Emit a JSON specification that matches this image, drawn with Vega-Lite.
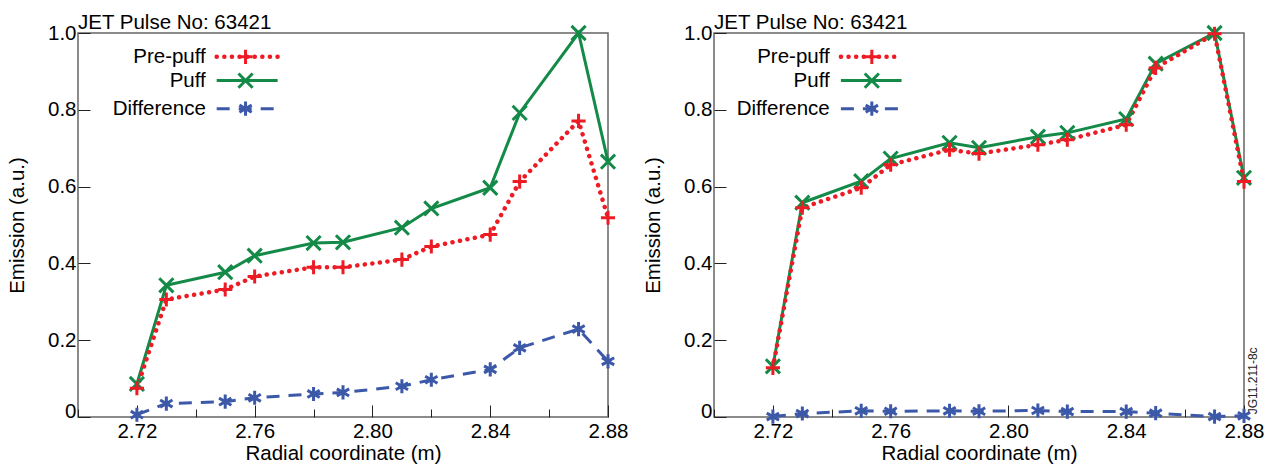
{
  "$schema": "https://vega.github.io/schema/vega-lite/v6.json",
  "padding": {"left": 6, "top": 12, "right": 4, "bottom": 4},
  "spacing": 13,
  "config": {
    "font": "Liberation Sans",
    "view": {"stroke": "#666", "strokeWidth": 1.5},
    "axis": {"labelFontSize": 20.5, "titleFontSize": 20.5, "titleFontWeight": "normal", "labelColor": "#000", "titleColor": "#000", "labelFont": "Liberation Sans", "titleFont": "Liberation Sans"},
    "title": {"font": "Liberation Sans", "fontSize": 20.5, "fontWeight": "normal", "color": "#000", "anchor": "start", "frame": "group", "offset": -14}
  },
  "datasets": {
    "legend": [{"series": "Pre-puff"}, {"series": "Puff"}, {"series": "Difference"}, {"series": "Label"}],
    "left": [
      {"x": 2.72, "series": "Puff", "v": 0.086}, {"x": 2.73, "series": "Puff", "v": 0.343}, {"x": 2.75, "series": "Puff", "v": 0.377}, {"x": 2.76, "series": "Puff", "v": 0.42}, {"x": 2.78, "series": "Puff", "v": 0.453}, {"x": 2.79, "series": "Puff", "v": 0.455}, {"x": 2.81, "series": "Puff", "v": 0.493}, {"x": 2.82, "series": "Puff", "v": 0.543}, {"x": 2.84, "series": "Puff", "v": 0.597}, {"x": 2.85, "series": "Puff", "v": 0.792}, {"x": 2.87, "series": "Puff", "v": 1.0}, {"x": 2.88, "series": "Puff", "v": 0.665},
      {"x": 2.72, "series": "Pre-puff", "v": 0.075}, {"x": 2.73, "series": "Pre-puff", "v": 0.306}, {"x": 2.75, "series": "Pre-puff", "v": 0.332}, {"x": 2.76, "series": "Pre-puff", "v": 0.366}, {"x": 2.78, "series": "Pre-puff", "v": 0.39}, {"x": 2.79, "series": "Pre-puff", "v": 0.39}, {"x": 2.81, "series": "Pre-puff", "v": 0.41}, {"x": 2.82, "series": "Pre-puff", "v": 0.444}, {"x": 2.84, "series": "Pre-puff", "v": 0.475}, {"x": 2.85, "series": "Pre-puff", "v": 0.613}, {"x": 2.87, "series": "Pre-puff", "v": 0.771}, {"x": 2.88, "series": "Pre-puff", "v": 0.519},
      {"x": 2.72, "series": "Difference", "v": 0.006}, {"x": 2.73, "series": "Difference", "v": 0.035}, {"x": 2.75, "series": "Difference", "v": 0.04}, {"x": 2.76, "series": "Difference", "v": 0.05}, {"x": 2.78, "series": "Difference", "v": 0.06}, {"x": 2.79, "series": "Difference", "v": 0.064}, {"x": 2.81, "series": "Difference", "v": 0.08}, {"x": 2.82, "series": "Difference", "v": 0.097}, {"x": 2.84, "series": "Difference", "v": 0.124}, {"x": 2.85, "series": "Difference", "v": 0.18}, {"x": 2.87, "series": "Difference", "v": 0.229}, {"x": 2.88, "series": "Difference", "v": 0.145}
    ],
    "right": [
      {"x": 2.72, "series": "Puff", "v": 0.132}, {"x": 2.73, "series": "Puff", "v": 0.558}, {"x": 2.75, "series": "Puff", "v": 0.614}, {"x": 2.76, "series": "Puff", "v": 0.673}, {"x": 2.78, "series": "Puff", "v": 0.714}, {"x": 2.79, "series": "Puff", "v": 0.701}, {"x": 2.81, "series": "Puff", "v": 0.73}, {"x": 2.82, "series": "Puff", "v": 0.74}, {"x": 2.84, "series": "Puff", "v": 0.776}, {"x": 2.85, "series": "Puff", "v": 0.92}, {"x": 2.87, "series": "Puff", "v": 1.0}, {"x": 2.88, "series": "Puff", "v": 0.623},
      {"x": 2.72, "series": "Pre-puff", "v": 0.128}, {"x": 2.73, "series": "Pre-puff", "v": 0.545}, {"x": 2.75, "series": "Pre-puff", "v": 0.597}, {"x": 2.76, "series": "Pre-puff", "v": 0.657}, {"x": 2.78, "series": "Pre-puff", "v": 0.696}, {"x": 2.79, "series": "Pre-puff", "v": 0.686}, {"x": 2.81, "series": "Pre-puff", "v": 0.709}, {"x": 2.82, "series": "Pre-puff", "v": 0.722}, {"x": 2.84, "series": "Pre-puff", "v": 0.761}, {"x": 2.85, "series": "Pre-puff", "v": 0.909}, {"x": 2.87, "series": "Pre-puff", "v": 0.998}, {"x": 2.88, "series": "Pre-puff", "v": 0.613},
      {"x": 2.72, "series": "Difference", "v": 0.001}, {"x": 2.73, "series": "Difference", "v": 0.009}, {"x": 2.75, "series": "Difference", "v": 0.016}, {"x": 2.76, "series": "Difference", "v": 0.015}, {"x": 2.78, "series": "Difference", "v": 0.016}, {"x": 2.79, "series": "Difference", "v": 0.015}, {"x": 2.81, "series": "Difference", "v": 0.017}, {"x": 2.82, "series": "Difference", "v": 0.014}, {"x": 2.84, "series": "Difference", "v": 0.014}, {"x": 2.85, "series": "Difference", "v": 0.01}, {"x": 2.87, "series": "Difference", "v": 0.001}, {"x": 2.88, "series": "Difference", "v": 0.003}
    ]
  },
  "hconcat": [
    {
      "width": 530, "height": 384,
      "title": {"text": "JET Pulse No: 63421"},
      "layer": [
        {
          "data": {"name": "left"},
          "encoding": {
            "x": {"field": "x", "type": "quantitative", "scale": {"domain": [2.7, 2.88], "nice": false, "zero": false},
              "axis": {"title": "Radial coordinate (m)", "values": [2.7, 2.72, 2.74, 2.76, 2.78, 2.8, 2.82, 2.84, 2.86, 2.88], "labelExpr": "round(datum.value*100) % 4 == 2 ? '' : format(datum.value, '.2f')", "tickSize": {"condition": {"test": "round(datum.value*100) % 4 == 2", "value": -8}, "value": -12}, "tickColor": "#222", "domain": false, "grid": false, "labelFlush": false, "labelPadding": 16, "titlePadding": 2}},
            "y": {"field": "v", "type": "quantitative", "scale": {"domain": [0, 1], "nice": false, "zero": false},
              "axis": {"title": "Emission (a.u.)", "values": [0, 0.1, 0.2, 0.3, 0.4, 0.5, 0.6, 0.7, 0.8, 0.9, 1.0], "labelExpr": "round(datum.value*10) % 2 == 1 ? '' : (datum.value == 0 ? '0' : format(datum.value, '.1f'))", "tickSize": {"condition": {"test": "round(datum.value*10) % 2 == 1", "value": -8}, "value": -12}, "labelBaseline": {"condition": {"test": "datum.value == 0", "value": "alphabetic"}, "value": "middle"}, "tickColor": "#222", "domain": false, "grid": false, "labelFlush": false, "labelPadding": 14, "titlePadding": 20}}
          },
          "layer": [
            {"transform": [{"filter": "datum.series == 'Puff'"}], "mark": {"type": "line", "color": "#138a47", "strokeWidth": 3}},
            {"transform": [{"filter": "datum.series == 'Pre-puff'"}], "mark": {"type": "line", "color": "#ed1c24", "strokeWidth": 4.5, "strokeDash": [0.1, 7.5], "strokeCap": "round"}},
            {"transform": [{"filter": "datum.series == 'Difference'"}], "mark": {"type": "line", "color": "#3c58a8", "strokeWidth": 3, "strokeDash": [13, 9]}},
            {"mark": {"type": "point", "filled": false, "strokeWidth": 3, "size": 200, "opacity": 1},
              "encoding": {
                "color": {"field": "series", "type": "nominal", "scale": {"domain": ["Pre-puff", "Puff", "Difference"], "range": ["#ed1c24", "#138a47", "#3c58a8"]}, "legend": null},
                "shape": {"field": "series", "type": "nominal", "scale": {"domain": ["Pre-puff", "Puff", "Difference"], "range": ["M-1,0L1,0M0,-1L0,1", "M-1,-1L1,1M-1,1L1,-1", "M0,-1L0,1M-0.87,-0.5L0.87,0.5M-0.87,0.5L0.87,-0.5"]}, "legend": null}
              }}
          ]
        },
        {"data": {"name": "legend"}, "transform": [{"filter": "datum.series == 'Pre-puff'"}], "mark": {"type": "text", "align": "right", "baseline": "middle", "fontSize": 20.5, "font": "Liberation Sans", "color": "#000"}, "encoding": {"x": {"datum": 2.7434, "type": "quantitative"}, "y": {"datum": 0.938, "type": "quantitative"}, "text": {"field": "series"}}},
        {"data": {"name": "legend"}, "transform": [{"filter": "datum.series == 'Puff'"}], "mark": {"type": "text", "align": "right", "baseline": "middle", "fontSize": 20.5, "font": "Liberation Sans", "color": "#000"}, "encoding": {"x": {"datum": 2.7434, "type": "quantitative"}, "y": {"datum": 0.876, "type": "quantitative"}, "text": {"field": "series"}}},
        {"data": {"name": "legend"}, "transform": [{"filter": "datum.series == 'Difference'"}], "mark": {"type": "text", "align": "right", "baseline": "middle", "fontSize": 20.5, "font": "Liberation Sans", "color": "#000"}, "encoding": {"x": {"datum": 2.7434, "type": "quantitative"}, "y": {"datum": 0.803, "type": "quantitative"}, "text": {"field": "series"}}},
        {"data": {"name": "legend"}, "transform": [{"filter": "datum.series == 'Pre-puff'"}], "mark": {"type": "rule", "color": "#ed1c24", "strokeWidth": 4.5, "strokeDash": [0.1, 7.5], "strokeCap": "round"}, "encoding": {"x": {"datum": 2.7471, "type": "quantitative"}, "x2": {"datum": 2.7678}, "y": {"datum": 0.938, "type": "quantitative"}}},
        {"data": {"name": "legend"}, "transform": [{"filter": "datum.series == 'Puff'"}], "mark": {"type": "rule", "color": "#138a47", "strokeWidth": 3}, "encoding": {"x": {"datum": 2.7471, "type": "quantitative"}, "x2": {"datum": 2.7678}, "y": {"datum": 0.876, "type": "quantitative"}}},
        {"data": {"name": "legend"}, "transform": [{"filter": "datum.series == 'Difference'"}], "mark": {"type": "rule", "color": "#3c58a8", "strokeWidth": 3, "strokeDash": [13, 9]}, "encoding": {"x": {"datum": 2.7471, "type": "quantitative"}, "x2": {"datum": 2.7678}, "y": {"datum": 0.803, "type": "quantitative"}}},
        {"data": {"name": "legend"}, "transform": [{"filter": "datum.series == 'Pre-puff'"}], "mark": {"type": "point", "filled": false, "strokeWidth": 3, "size": 200, "opacity": 1, "color": "#ed1c24", "shape": "M-1,0L1,0M0,-1L0,1"}, "encoding": {"x": {"datum": 2.7569, "type": "quantitative"}, "y": {"datum": 0.938, "type": "quantitative"}}},
        {"data": {"name": "legend"}, "transform": [{"filter": "datum.series == 'Puff'"}], "mark": {"type": "point", "filled": false, "strokeWidth": 3, "size": 200, "opacity": 1, "color": "#138a47", "shape": "M-1,-1L1,1M-1,1L1,-1"}, "encoding": {"x": {"datum": 2.7569, "type": "quantitative"}, "y": {"datum": 0.876, "type": "quantitative"}}},
        {"data": {"name": "legend"}, "transform": [{"filter": "datum.series == 'Difference'"}], "mark": {"type": "point", "filled": false, "strokeWidth": 3, "size": 200, "opacity": 1, "color": "#3c58a8", "shape": "M0,-1L0,1M-0.87,-0.5L0.87,0.5M-0.87,0.5L0.87,-0.5"}, "encoding": {"x": {"datum": 2.7569, "type": "quantitative"}, "y": {"datum": 0.803, "type": "quantitative"}}}
      ]
    },
    {
      "width": 530, "height": 384,
      "title": {"text": "JET Pulse No: 63421"},
      "layer": [
        {
          "data": {"name": "right"},
          "encoding": {
            "x": {"field": "x", "type": "quantitative", "scale": {"domain": [2.7, 2.88], "nice": false, "zero": false},
              "axis": {"title": "Radial coordinate (m)", "values": [2.7, 2.72, 2.74, 2.76, 2.78, 2.8, 2.82, 2.84, 2.86, 2.88], "labelExpr": "round(datum.value*100) % 4 == 2 ? '' : format(datum.value, '.2f')", "tickSize": {"condition": {"test": "round(datum.value*100) % 4 == 2", "value": -8}, "value": -12}, "tickColor": "#222", "domain": false, "grid": false, "labelFlush": false, "labelPadding": 16, "titlePadding": 2}},
            "y": {"field": "v", "type": "quantitative", "scale": {"domain": [0, 1], "nice": false, "zero": false},
              "axis": {"title": "Emission (a.u.)", "values": [0, 0.1, 0.2, 0.3, 0.4, 0.5, 0.6, 0.7, 0.8, 0.9, 1.0], "labelExpr": "round(datum.value*10) % 2 == 1 ? '' : (datum.value == 0 ? '0' : format(datum.value, '.1f'))", "tickSize": {"condition": {"test": "round(datum.value*10) % 2 == 1", "value": -8}, "value": -12}, "labelBaseline": {"condition": {"test": "datum.value == 0", "value": "alphabetic"}, "value": "middle"}, "tickColor": "#222", "domain": false, "grid": false, "labelFlush": false, "labelPadding": 14, "titlePadding": 20}}
          },
          "layer": [
            {"transform": [{"filter": "datum.series == 'Puff'"}], "mark": {"type": "line", "color": "#138a47", "strokeWidth": 3}},
            {"transform": [{"filter": "datum.series == 'Pre-puff'"}], "mark": {"type": "line", "color": "#ed1c24", "strokeWidth": 4.5, "strokeDash": [0.1, 7.5], "strokeCap": "round"}},
            {"transform": [{"filter": "datum.series == 'Difference'"}], "mark": {"type": "line", "color": "#3c58a8", "strokeWidth": 3, "strokeDash": [13, 9]}},
            {"mark": {"type": "point", "filled": false, "strokeWidth": 3, "size": 200, "opacity": 1},
              "encoding": {
                "color": {"field": "series", "type": "nominal", "scale": {"domain": ["Pre-puff", "Puff", "Difference"], "range": ["#ed1c24", "#138a47", "#3c58a8"]}, "legend": null},
                "shape": {"field": "series", "type": "nominal", "scale": {"domain": ["Pre-puff", "Puff", "Difference"], "range": ["M-1,0L1,0M0,-1L0,1", "M-1,-1L1,1M-1,1L1,-1", "M0,-1L0,1M-0.87,-0.5L0.87,0.5M-0.87,0.5L0.87,-0.5"]}, "legend": null}
              }}
          ]
        },
        {"data": {"name": "legend"}, "transform": [{"filter": "datum.series == 'Pre-puff'"}], "mark": {"type": "text", "align": "right", "baseline": "middle", "fontSize": 20.5, "font": "Liberation Sans", "color": "#000"}, "encoding": {"x": {"datum": 2.7393, "type": "quantitative"}, "y": {"datum": 0.938, "type": "quantitative"}, "text": {"field": "series"}}},
        {"data": {"name": "legend"}, "transform": [{"filter": "datum.series == 'Puff'"}], "mark": {"type": "text", "align": "right", "baseline": "middle", "fontSize": 20.5, "font": "Liberation Sans", "color": "#000"}, "encoding": {"x": {"datum": 2.7393, "type": "quantitative"}, "y": {"datum": 0.876, "type": "quantitative"}, "text": {"field": "series"}}},
        {"data": {"name": "legend"}, "transform": [{"filter": "datum.series == 'Difference'"}], "mark": {"type": "text", "align": "right", "baseline": "middle", "fontSize": 20.5, "font": "Liberation Sans", "color": "#000"}, "encoding": {"x": {"datum": 2.7393, "type": "quantitative"}, "y": {"datum": 0.803, "type": "quantitative"}, "text": {"field": "series"}}},
        {"data": {"name": "legend"}, "transform": [{"filter": "datum.series == 'Pre-puff'"}], "mark": {"type": "rule", "color": "#ed1c24", "strokeWidth": 4.5, "strokeDash": [0.1, 7.5], "strokeCap": "round"}, "encoding": {"x": {"datum": 2.7431, "type": "quantitative"}, "x2": {"datum": 2.7637}, "y": {"datum": 0.938, "type": "quantitative"}}},
        {"data": {"name": "legend"}, "transform": [{"filter": "datum.series == 'Puff'"}], "mark": {"type": "rule", "color": "#138a47", "strokeWidth": 3}, "encoding": {"x": {"datum": 2.7431, "type": "quantitative"}, "x2": {"datum": 2.7637}, "y": {"datum": 0.876, "type": "quantitative"}}},
        {"data": {"name": "legend"}, "transform": [{"filter": "datum.series == 'Difference'"}], "mark": {"type": "rule", "color": "#3c58a8", "strokeWidth": 3, "strokeDash": [13, 9]}, "encoding": {"x": {"datum": 2.7431, "type": "quantitative"}, "x2": {"datum": 2.7637}, "y": {"datum": 0.803, "type": "quantitative"}}},
        {"data": {"name": "legend"}, "transform": [{"filter": "datum.series == 'Pre-puff'"}], "mark": {"type": "point", "filled": false, "strokeWidth": 3, "size": 200, "opacity": 1, "color": "#ed1c24", "shape": "M-1,0L1,0M0,-1L0,1"}, "encoding": {"x": {"datum": 2.7536, "type": "quantitative"}, "y": {"datum": 0.938, "type": "quantitative"}}},
        {"data": {"name": "legend"}, "transform": [{"filter": "datum.series == 'Puff'"}], "mark": {"type": "point", "filled": false, "strokeWidth": 3, "size": 200, "opacity": 1, "color": "#138a47", "shape": "M-1,-1L1,1M-1,1L1,-1"}, "encoding": {"x": {"datum": 2.7536, "type": "quantitative"}, "y": {"datum": 0.876, "type": "quantitative"}}},
        {"data": {"name": "legend"}, "transform": [{"filter": "datum.series == 'Difference'"}], "mark": {"type": "point", "filled": false, "strokeWidth": 3, "size": 200, "opacity": 1, "color": "#3c58a8", "shape": "M0,-1L0,1M-0.87,-0.5L0.87,0.5M-0.87,0.5L0.87,-0.5"}, "encoding": {"x": {"datum": 2.7536, "type": "quantitative"}, "y": {"datum": 0.803, "type": "quantitative"}}},
        {"data": {"name": "legend"}, "transform": [{"filter": "datum.series == 'Label'"}], "mark": {"type": "text", "align": "center", "baseline": "middle", "angle": 270, "fontSize": 12, "font": "Liberation Sans", "color": "#222"}, "encoding": {"x": {"datum": 2.8832, "type": "quantitative"}, "y": {"datum": 0.094, "type": "quantitative"}, "text": {"value": "JG11.211-8c"}}}
      ]
    }
  ]
}
